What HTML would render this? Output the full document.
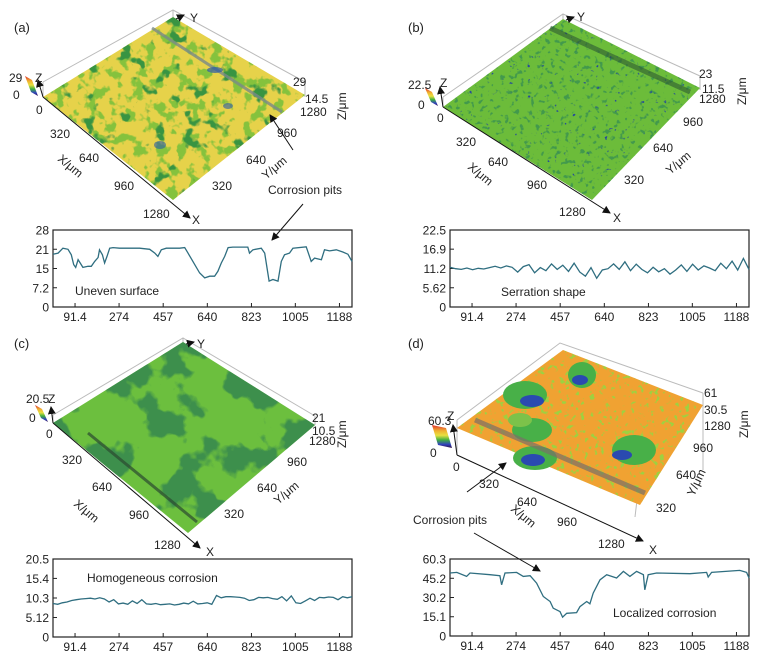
<!DOCTYPE html>
<html><head><meta charset="utf-8"><style>
html,body{margin:0;padding:0;background:#fff;}
svg{display:block;font-family:"Liberation Sans",sans-serif;}
text{fill:#222;}
filter{color-interpolation-filters:sRGB;}
</style></head><body>
<svg id="fig" width="773" height="659" viewBox="0 0 773 659">
<defs>
 <marker id="ah" markerWidth="8" markerHeight="8" refX="7" refY="4" orient="auto" markerUnits="userSpaceOnUse"><path d="M0,0 L8,4 L0,8 z" fill="#111"/></marker>
 <linearGradient id="rb" x1="0" y1="0" x2="0" y2="1">
  <stop offset="0" stop-color="#e03030"/><stop offset="0.25" stop-color="#f0b030"/><stop offset="0.45" stop-color="#e8e040"/><stop offset="0.65" stop-color="#40b040"/><stop offset="0.85" stop-color="#3040c0"/><stop offset="1" stop-color="#301040"/>
 </linearGradient>
 <filter id="fa1" x="0" y="0" width="1" height="1" color-interpolation-filters="sRGB"><feTurbulence type="fractalNoise" baseFrequency="0.09" numOctaves="3" seed="3"/><feColorMatrix type="matrix" values="0 0 0 0 0.52  0 0 0 0 0.76  0 0 0 0 0.24  9 0 0 0 -4.7"/><feComposite in2="SourceGraphic" operator="in"/></filter>
 <filter id="fa2" x="0" y="0" width="1" height="1" color-interpolation-filters="sRGB"><feTurbulence type="fractalNoise" baseFrequency="0.06" numOctaves="3" seed="7"/><feColorMatrix type="matrix" values="0 0 0 0 0.22  0 0 0 0 0.58  0 0 0 0 0.26  12 0 0 0 -7.6"/><feComposite in2="SourceGraphic" operator="in"/></filter>
 <filter id="fb1" x="0" y="0" width="1" height="1" color-interpolation-filters="sRGB"><feTurbulence type="fractalNoise" baseFrequency="0.2" numOctaves="2" seed="5"/><feColorMatrix type="matrix" values="0 0 0 0 0.26  0 0 0 0 0.60  0 0 0 0 0.30  10 0 0 0 -6.1"/><feComposite in2="SourceGraphic" operator="in"/></filter>
 <filter id="fb2" x="0" y="0" width="1" height="1" color-interpolation-filters="sRGB"><feTurbulence type="fractalNoise" baseFrequency="0.22" numOctaves="2" seed="15"/><feColorMatrix type="matrix" values="0 0 0 0 0.15  0 0 0 0 0.30  0 0 0 0 0.60  10 0 0 0 -7.3"/><feComposite in2="SourceGraphic" operator="in"/></filter>
 <filter id="fc1" x="0" y="0" width="1" height="1" color-interpolation-filters="sRGB"><feTurbulence type="fractalNoise" baseFrequency="0.025" numOctaves="4" seed="11"/><feColorMatrix type="matrix" values="0 0 0 0 0.24  0 0 0 0 0.56  0 0 0 0 0.30  14 0 0 0 -7.3"/><feComposite in2="SourceGraphic" operator="in"/></filter>
 <filter id="fd1" x="0" y="0" width="1" height="1" color-interpolation-filters="sRGB"><feTurbulence type="fractalNoise" baseFrequency="0.2" numOctaves="2" seed="9"/><feColorMatrix type="matrix" values="0 0 0 0 0.62  0 0 0 0 0.82  0 0 0 0 0.25  10 0 0 0 -6.0"/><feComposite in2="SourceGraphic" operator="in"/></filter>
</defs>

<!-- ===== Panel A ===== -->
<g>
 <text x="14" y="32" font-size="13">(a)</text>
 <g stroke="#bbb" stroke-width="1" fill="none">
  <polyline points="43,82 173,10 305,82"/><line x1="173" y1="10" x2="173" y2="17"/><line x1="305" y1="82" x2="305" y2="97"/><line x1="43" y1="82" x2="43" y2="97"/>
 </g>
 <polygon points="173,17 305,95 173,200 43,97" fill="#e6d24a"/>
 <polygon points="173,17 305,95 173,200 43,97" fill="#fff" filter="url(#fa1)"/>
 <polygon points="173,17 305,95 173,200 43,97" fill="#fff" filter="url(#fa2)"/>
 <line x1="152" y1="28" x2="282" y2="112" stroke="#7a8a88" stroke-width="3" opacity="0.8"/>
 <ellipse cx="215" cy="70" rx="8" ry="3" fill="#2a5aa8" opacity="0.7"/><ellipse cx="160" cy="145" rx="6" ry="4" fill="#2a5aa8" opacity="0.6"/><ellipse cx="228" cy="106" rx="5" ry="3" fill="#2a5aa8" opacity="0.6"/>
 <polygon points="25,76 32,80 38,96 31,92" fill="url(#rb)"/>
 <line x1="43" y1="97" x2="38" y2="80" stroke="#111" marker-end="url(#ah)"/>
 <line x1="43" y1="97" x2="190" y2="218" stroke="#111" marker-end="url(#ah)"/>
 <line x1="176" y1="19" x2="184" y2="15" stroke="#111" marker-end="url(#ah)"/>
 <g font-size="12">
  <text x="9" y="82">29</text><text x="35" y="82">Z</text><text x="13" y="99">0</text><text x="36" y="114">0</text>
  <text x="50" y="138">320</text><text x="79" y="162">640</text><text x="114" y="190">960</text><text x="143" y="218">1280</text>
  <text x="192" y="224">X</text><text x="190" y="22">Y</text>
  <text x="300" y="116">1280</text><text x="277" y="137">960</text><text x="246" y="164">640</text><text x="212" y="190">320</text>
  <text x="293" y="86">29</text><text x="305" y="103">14.5</text>
  <text transform="translate(57,160) rotate(40)">X/μm</text>
  <text transform="translate(266,180) rotate(-40)">Y/μm</text>
  <text transform="translate(346,120) rotate(-90)">Z/μm</text>
  <text x="268" y="194">Corrosion pits</text>
  <text x="75" y="295">Uneven surface</text>
 </g>
 <line x1="293" y1="150" x2="270" y2="115" stroke="#111" marker-end="url(#ah)"/>
 <line x1="303" y1="204" x2="272" y2="240" stroke="#111" marker-end="url(#ah)"/>
 <g id="prof-a"></g>
</g>

<!-- ===== Panel B ===== -->
<g>
 <text x="408" y="32" font-size="13">(b)</text>
 <g stroke="#bbb" stroke-width="1" fill="none">
  <polyline points="443,97 563,14 700,76"/><line x1="563" y1="14" x2="563" y2="19"/><line x1="700" y1="76" x2="700" y2="90"/><line x1="443" y1="97" x2="443" y2="107"/>
 </g>
 <polygon points="563,19 700,88 592,200 443,107" fill="#6cbc3a"/>
 <polygon points="563,19 700,88 592,200 443,107" fill="#fff" filter="url(#fb1)"/>
 <polygon points="563,19 700,88 592,200 443,107" fill="#fff" filter="url(#fb2)"/>
 <line x1="550" y1="28" x2="690" y2="92" stroke="#2e5a32" stroke-width="5" opacity="0.6"/>
 <polygon points="425,88 432,92 438,106 431,102" fill="url(#rb)"/>
 <line x1="443" y1="107" x2="440" y2="87" stroke="#111" marker-end="url(#ah)"/>
 <line x1="443" y1="107" x2="610" y2="213" stroke="#111" marker-end="url(#ah)"/>
 <line x1="566" y1="20" x2="574" y2="17" stroke="#111" marker-end="url(#ah)"/>
 <g font-size="12">
  <text x="408" y="89">22.5</text><text x="440" y="87">Z</text><text x="418" y="109">0</text><text x="437" y="122">0</text>
  <text x="456" y="146">320</text><text x="488" y="166">640</text><text x="527" y="189">960</text><text x="559" y="216">1280</text>
  <text x="613" y="222">X</text><text x="577" y="21">Y</text>
  <text x="699" y="103">1280</text><text x="683" y="126">960</text><text x="653" y="152">640</text><text x="624" y="184">320</text>
  <text x="699" y="78">23</text><text x="702" y="93">11.5</text>
  <text transform="translate(467,168) rotate(40)">X/μm</text>
  <text transform="translate(670,175) rotate(-40)">Y/μm</text>
  <text transform="translate(746,105) rotate(-90)">Z/μm</text>
  <text x="501" y="296">Serration shape</text>
 </g>
 <g id="prof-b"></g>
</g>

<!-- ===== Panel C ===== -->
<g>
 <text x="14" y="348" font-size="13">(c)</text>
 <g stroke="#bbb" stroke-width="1" fill="none">
  <polyline points="53,415 183,338 315,416"/><line x1="183" y1="338" x2="183" y2="342"/><line x1="315" y1="416" x2="315" y2="425"/><line x1="53" y1="415" x2="53" y2="423"/>
 </g>
 <polygon points="183,342 315,425 188,533 53,423" fill="#6cbf3e"/>
 <polygon points="183,342 315,425 188,533 53,423" fill="#fff" filter="url(#fc1)"/>
 <line x1="88" y1="433" x2="197" y2="522" stroke="#2b4a30" stroke-width="3" opacity="0.7"/>
 <polygon points="35,405 42,409 48,422 41,418" fill="url(#rb)"/>
 <line x1="53" y1="423" x2="51" y2="407" stroke="#111" marker-end="url(#ah)"/>
 <line x1="53" y1="423" x2="200" y2="548" stroke="#111" marker-end="url(#ah)"/>
 <line x1="186" y1="344" x2="194" y2="342" stroke="#111" marker-end="url(#ah)"/>
 <g font-size="12">
  <text x="26" y="403">20.5</text><text x="48" y="403">Z</text><text x="29" y="422">0</text><text x="46" y="438">0</text>
  <text x="62" y="464">320</text><text x="92" y="491">640</text><text x="129" y="519">960</text><text x="154" y="549">1280</text>
  <text x="206" y="556">X</text><text x="197" y="348">Y</text>
  <text x="309" y="445">1280</text><text x="287" y="466">960</text><text x="257" y="492">640</text><text x="224" y="518">320</text>
  <text x="312" y="422">21</text><text x="312" y="435">10.5</text>
  <text transform="translate(73,505) rotate(40)">X/μm</text>
  <text transform="translate(278,505) rotate(-40)">Y/μm</text>
  <text transform="translate(346,448) rotate(-90)">Z/μm</text>
  <text x="87" y="582">Homogeneous corrosion</text>
 </g>
 <g id="prof-c"></g>
</g>

<!-- ===== Panel D ===== -->
<g>
 <text x="408" y="348" font-size="13">(d)</text>
 <g stroke="#bbb" stroke-width="1" fill="none">
  <polyline points="457,420 560,343 703,393"/><line x1="457" y1="420" x2="457" y2="455"/><line x1="703" y1="393" x2="703" y2="470"/><line x1="635" y1="517" x2="637" y2="500"/>
 </g>
 <polygon points="563,350 703,405 640,505 457,428" fill="#f0a232"/>
 <polygon points="563,350 703,405 640,505 457,428" fill="#fff" filter="url(#fd1)"/>
 <g>
  <ellipse cx="525" cy="395" rx="22" ry="14" fill="#48b048"/><ellipse cx="532" cy="401" rx="12" ry="6" fill="#2a4ab0"/>
  <ellipse cx="582" cy="375" rx="14" ry="13" fill="#48b048"/><ellipse cx="580" cy="380" rx="8" ry="5" fill="#2a4ab0"/>
  <ellipse cx="634" cy="450" rx="22" ry="15" fill="#48b048"/><ellipse cx="622" cy="455" rx="10" ry="5" fill="#2a4ab0"/>
  <ellipse cx="532" cy="430" rx="20" ry="12" fill="#48b048"/><ellipse cx="535" cy="458" rx="22" ry="12" fill="#48b048"/><ellipse cx="533" cy="460" rx="12" ry="6" fill="#2a4ab0"/>
  <ellipse cx="520" cy="420" rx="12" ry="7" fill="#7cc24a"/>
 </g>
 <line x1="475" y1="420" x2="645" y2="493" stroke="#7a7068" stroke-width="5" opacity="0.7"/>
 <polygon points="432,425 446,428 452,448 438,445" fill="url(#rb)"/>
 <line x1="457" y1="455" x2="453" y2="425" stroke="#111" marker-end="url(#ah)"/>
 <line x1="457" y1="455" x2="643" y2="541" stroke="#111" marker-end="url(#ah)"/>
 <g font-size="12">
  <text x="428" y="425">60.3</text><text x="447" y="420">Z</text><text x="430" y="457">0</text><text x="453" y="471">0</text>
  <text x="479" y="488">320</text><text x="517" y="506">640</text><text x="557" y="526">960</text><text x="598" y="548">1280</text>
  <text x="649" y="554">X</text>
  <text x="704" y="430">1280</text><text x="693" y="452">960</text><text x="676" y="479">640</text><text x="656" y="512">320</text>
  <text x="704" y="397">61</text><text x="704" y="414">30.5</text>
  <text transform="translate(510,510) rotate(40)">X/μm</text>
  <text transform="translate(694,497) rotate(-65)">Y/μm</text>
  <text transform="translate(748,438) rotate(-90)">Z/μm</text>
  <text x="413" y="524">Corrosion pits</text>
  <text x="613" y="617">Localized corrosion</text>
 </g>
 <line x1="467" y1="492" x2="506" y2="463" stroke="#111" marker-end="url(#ah)"/>
 <line x1="474" y1="533" x2="540" y2="571" stroke="#111" marker-end="url(#ah)"/>
 <g id="prof-d"></g>
</g>
</svg>

<script>
// ---- profile data ----
var xTickLabels = ["91.4","274","457","640","823","1005","1188"];
var xTickValues = [91.4,274,457,640,823,1005,1188];

var aX = [0,21,41,62,76,86,94,104,113,124,145,159,173,187,193,205,214,224,235,249,276,304,359,401,422,435,449,470,525,546,560,580,608,629,650,670,684,698,712,726,746,808,815,829,864,878,891,896,912,933,947,960,981,995,1050,1071,1085,1113,1126,1147,1175,1202,1223,1240];
var aY = [19.2,19.6,21.4,21.0,19.0,15.4,14.4,17.2,16.0,14.4,14.8,14.8,16.6,18.0,20.8,19.0,16.0,18.4,21.4,21.6,21.4,21.4,21.4,21.0,19.6,18.4,20.8,21.4,21.4,21.6,19.6,16.6,12.4,10.6,11.2,11.2,13.0,16.0,18.4,21.6,21.8,21.8,19.6,20.8,21.4,19.6,12.4,9.4,10.0,9.4,16.6,19.0,19.6,21.4,21.9,16.6,17.8,17.2,20.8,20.4,20.8,20.0,19.2,16.6];
var aTickVals = [0,7,14,21,28];
var aTickLabels = ["0","7.2","15","21","28"];

var bY = [11.6,11.2,11.0,11.4,10.9,11.3,11.1,11.5,11.9,11.4,12.0,11.6,10.2,11.8,12.4,10.0,11.5,10.6,12.6,11.0,12.2,10.4,12.8,10.2,9.0,11.5,8.4,10.8,11.2,12.6,11.0,13.2,10.6,12.5,11.0,10.0,11.6,10.3,11.2,9.6,10.8,12.3,10.4,12.5,10.8,12.0,11.4,10.6,12.8,11.2,13.4,10.8,14.2,11.0];
var bTickVals = [0,5.62,11.25,16.9,22.5];
var bTickLabels = ["0","5.62","11.2","16.9","22.5"];

var cY = [8.8,8.6,9.0,9.2,9.6,9.8,10.0,10.1,10.2,10.0,10.3,10.0,9.2,9.8,8.7,8.9,8.6,9.5,8.8,9.8,8.7,8.6,8.8,8.5,8.6,8.7,8.4,8.6,8.9,8.7,9.4,8.7,8.8,9.0,8.6,10.9,10.3,10.6,10.6,10.5,10.4,10.2,9.6,9.8,10.4,10.3,10.4,10.1,9.9,10.6,9.5,10.8,9.0,8.8,9.5,10.2,9.6,10.4,10.3,10.5,10.4,9.8,10.6,10.3,10.6];
var cTickVals = [0,5.12,10.25,15.4,20.5];
var cTickLabels = ["0","5.12","10.3","15.4","20.5"];

var dX = [0,28,69,83,166,207,214,228,276,304,332,359,387,415,428,456,467,484,525,539,567,580,594,622,650,691,719,746,774,802,808,822,857,995,1064,1071,1085,1202,1230,1240];
var dY = [49.3,49.8,46.7,49.3,48.0,47.2,40.1,49.3,49.8,46.7,47.2,41.4,30.9,27.0,21.8,19.1,14.7,17.8,18.3,23.0,27.0,25.2,33.6,44.0,48.0,45.4,50.6,46.7,50.6,48.0,36.2,48.0,49.3,48.8,49.8,46.2,49.8,51.4,49.8,45.4];
var dTickVals = [0,15.08,30.15,45.2,60.3];
var dTickLabels = ["0","15.1","30.2","45.2","60.3"];

var XMAX = 1240;
var NS = "http://www.w3.org/2000/svg";
function mk(tag, attrs, parent){var e=document.createElementNS(NS,tag);for(var k in attrs)e.setAttribute(k,attrs[k]);parent.appendChild(e);return e;}

function drawProfile(gid, name, box, ymax, xs, ys, tickVals, tickLabels){
  var g = document.getElementById(gid);
  var sx = function(v){return box.x0 + (box.x1-box.x0)*v/XMAX;};
  var sy = function(v){return box.y1 - (box.y1-box.y0)*v/ymax;};
  var r = mk('rect',{x:box.x0,y:box.y0,width:box.x1-box.x0,height:box.y1-box.y0,fill:'none',stroke:'#222','stroke-width':1.2},g);
  
  
  for(var i=0;i<tickVals.length;i++){
    var y=sy(tickVals[i]);
    mk('line',{x1:box.x0,x2:box.x0+4,y1:y,y2:y,stroke:'#222'},g);
    var t=mk('text',{x:box.x0-4,y:y+4.5,'font-size':12,'text-anchor':'end'},g);
    t.textContent=tickLabels[i];
    
    
  }
  for(var j=0;j<xTickValues.length;j++){
    var x=sx(xTickValues[j]);
    mk('line',{x1:x,x2:x,y1:box.y1,y2:box.y1-4,stroke:'#222'},g);
    var t2=mk('text',{x:x,y:box.y1+14,'font-size':12,'text-anchor':'middle'},g);
    t2.textContent=xTickLabels[j];
    
    
  }
  var pts=[];
  for(var k=0;k<ys.length;k++){
    var xv = xs ? xs[k] : XMAX*k/(ys.length-1);
    pts.push(sx(xv).toFixed(1)+','+sy(ys[k]).toFixed(1));
  }
  var p=mk('polyline',{points:pts.join(' '),fill:'none',stroke:'#2f6e80','stroke-width':1.3},g);
  
  
}
drawProfile('prof-a','profile-a',{x0:53,x1:352,y0:230,y1:307},28,aX,aY,aTickVals,aTickLabels);
drawProfile('prof-b','profile-b',{x0:450,x1:749,y0:230,y1:307},22.5,null,bY,bTickVals,bTickLabels);
drawProfile('prof-c','profile-c',{x0:53,x1:352,y0:559,y1:637},20.5,null,cY,cTickVals,cTickLabels);
drawProfile('prof-d','profile-d',{x0:450,x1:749,y0:559,y1:636},60.3,dX,dY,dTickVals,dTickLabels);
</script>
</body></html>
